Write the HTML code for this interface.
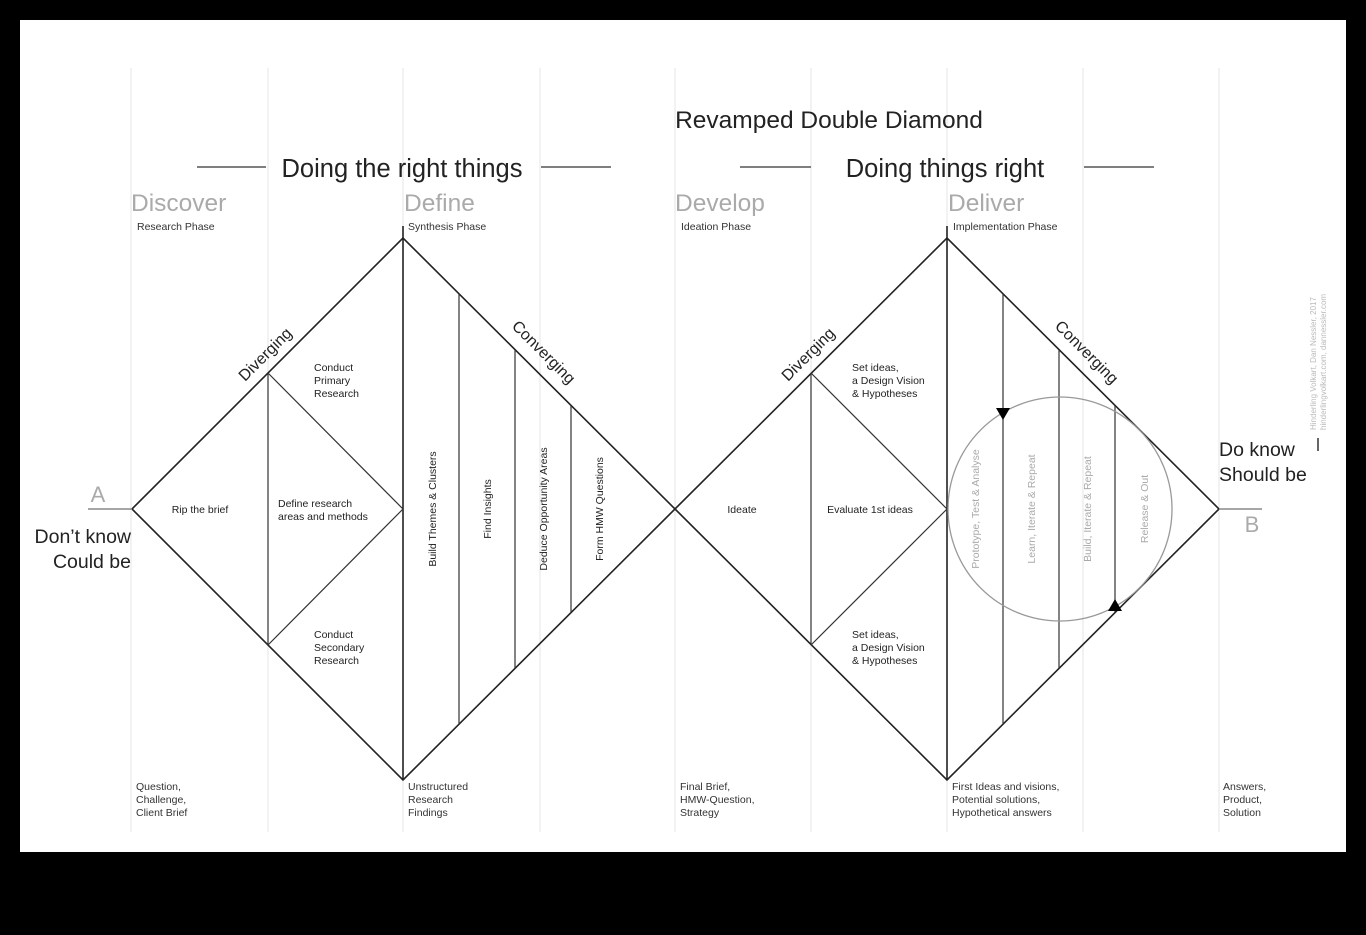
<!DOCTYPE html>
<html><head><meta charset="utf-8"><style>
html,body{margin:0;padding:0;background:#000;width:1366px;height:935px;overflow:hidden}
svg{display:block}
text{font-family:"Liberation Sans",sans-serif}
</style></head><body>
<svg width="1366" height="935" viewBox="0 0 1366 935" xmlns="http://www.w3.org/2000/svg">
<rect x="0" y="0" width="1366" height="935" fill="#000"/>
<rect x="20" y="20" width="1326" height="832" fill="#fff"/>
<g stroke="#e6e6e6" stroke-width="1">
<line x1="131" y1="68" x2="131" y2="832"/><line x1="268" y1="68" x2="268" y2="832"/>
<line x1="403" y1="68" x2="403" y2="832"/><line x1="540" y1="68" x2="540" y2="832"/>
<line x1="675" y1="68" x2="675" y2="832"/><line x1="811" y1="68" x2="811" y2="832"/>
<line x1="947" y1="68" x2="947" y2="832"/><line x1="1083" y1="68" x2="1083" y2="832"/>
<line x1="1219" y1="68" x2="1219" y2="832"/>
</g>
<g stroke="#333" stroke-width="1.3">
<line x1="197" y1="167" x2="266" y2="167"/><line x1="541" y1="167" x2="611" y2="167"/>
<line x1="740" y1="167" x2="811" y2="167"/><line x1="1084" y1="167" x2="1154" y2="167"/>
</g>
<text x="829" y="128" font-size="24.5" text-anchor="middle" fill="#222">Revamped Double Diamond</text>
<text x="402" y="177" font-size="25.5" text-anchor="middle" fill="#222">Doing the right things</text>
<text x="945" y="177" font-size="25.5" text-anchor="middle" fill="#222">Doing things right</text>
<g font-size="24.5" fill="#aaa">
<text x="131" y="211">Discover</text><text x="404" y="211">Define</text>
<text x="675" y="211">Develop</text><text x="948" y="211">Deliver</text>
</g>
<g font-size="10.5" fill="#333">
<text x="137" y="230">Research Phase</text><text x="408" y="230">Synthesis Phase</text>
<text x="681" y="230">Ideation Phase</text><text x="953" y="230">Implementation Phase</text>
<text x="136" y="790">Question,</text><text x="136" y="803">Challenge,</text><text x="136" y="816">Client Brief</text>
<text x="408" y="790">Unstructured</text><text x="408" y="803">Research</text><text x="408" y="816">Findings</text>
<text x="680" y="790">Final Brief,</text><text x="680" y="803">HMW-Question,</text><text x="680" y="816">Strategy</text>
<text x="952" y="790">First Ideas and visions,</text><text x="952" y="803">Potential solutions,</text><text x="952" y="816">Hypothetical answers</text>
<text x="1223" y="790">Answers,</text><text x="1223" y="803">Product,</text><text x="1223" y="816">Solution</text>
</g>
<g stroke="#222" stroke-width="1.6" fill="none">
<polygon points="132,509 403,238 675,509 403,780"/>
<polygon points="675,509 947,238 1219,509 947,780"/>
<line x1="403" y1="226" x2="403" y2="780"/><line x1="947" y1="226" x2="947" y2="780"/>
<line x1="88" y1="509" x2="132" y2="509" stroke="#888"/><line x1="1219" y1="509" x2="1262" y2="509" stroke="#888"/>
</g>
<g stroke="#333" stroke-width="1.2" fill="none">
<line x1="268" y1="373" x2="268" y2="645"/><polyline points="268,373 403,509 268,645"/>
<line x1="459" y1="294" x2="459" y2="724"/><line x1="515" y1="350" x2="515" y2="668"/><line x1="571" y1="406" x2="571" y2="612"/>
<line x1="811" y1="373" x2="811" y2="645"/><polyline points="811,373 947,509 811,645"/>
<line x1="1003" y1="294" x2="1003" y2="724"/><line x1="1059" y1="350" x2="1059" y2="668"/><line x1="1115" y1="406" x2="1115" y2="612"/>
</g>
<circle cx="1060" cy="509" r="112" fill="none" stroke="#999" stroke-width="1.3"/>
<polygon points="996,408 1010,408 1003,420" fill="#000"/>
<polygon points="1108,611 1122,611 1115,599" fill="#000"/>
<g font-size="16" fill="#222">
<text transform="translate(245,382) rotate(-45)">Diverging</text>
<text transform="translate(788,382) rotate(-45)">Diverging</text>
<text transform="translate(511,327) rotate(45)">Converging</text>
<text transform="translate(1054,327) rotate(45)">Converging</text>
</g>
<g font-size="10.5" fill="#222">
<text x="200" y="513" text-anchor="middle">Rip the brief</text>
<text x="278" y="507">Define research</text><text x="278" y="520">areas and methods</text>
<text x="314" y="371">Conduct</text><text x="314" y="384">Primary</text><text x="314" y="397">Research</text>
<text x="314" y="638">Conduct</text><text x="314" y="651">Secondary</text><text x="314" y="664">Research</text>
<text x="742" y="513" text-anchor="middle">Ideate</text>
<text x="870" y="513" text-anchor="middle">Evaluate 1st ideas</text>
<text x="852" y="371">Set ideas,</text><text x="852" y="384">a Design Vision</text><text x="852" y="397">&amp; Hypotheses</text>
<text x="852" y="638">Set ideas,</text><text x="852" y="651">a Design Vision</text><text x="852" y="664">&amp; Hypotheses</text>
<text transform="translate(436,509) rotate(-90)" text-anchor="middle">Build Themes &amp; Clusters</text>
<text transform="translate(491,509) rotate(-90)" text-anchor="middle">Find Insights</text>
<text transform="translate(547,509) rotate(-90)" text-anchor="middle">Deduce Opportunity Areas</text>
<text transform="translate(603,509) rotate(-90)" text-anchor="middle">Form HMW Questions</text>
</g>
<g font-size="10.5" fill="#aaa">
<text transform="translate(979,509) rotate(-90)" text-anchor="middle">Prototype, Test &amp; Analyse</text>
<text transform="translate(1035,509) rotate(-90)" text-anchor="middle">Learn, Iterate &amp; Repeat</text>
<text transform="translate(1091,509) rotate(-90)" text-anchor="middle">Build, Iterate &amp; Repeat</text>
<text transform="translate(1148,509) rotate(-90)" text-anchor="middle">Release &amp; Out</text>
</g>
<text x="98" y="502" font-size="22" fill="#aaa" text-anchor="middle">A</text>
<text x="1252" y="532" font-size="22" fill="#aaa" text-anchor="middle">B</text>
<g font-size="19.5" fill="#222">
<text x="131" y="543" text-anchor="end">Don’t know</text>
<text x="131" y="568" text-anchor="end">Could be</text>
<text x="1219" y="456">Do know</text>
<text x="1219" y="481">Should be</text>
</g>
<line x1="1318" y1="438" x2="1318" y2="451" stroke="#333" stroke-width="1.5"/>
<g font-size="8" fill="#bbb">
<text transform="translate(1316,430) rotate(-90)">Hinderling Volkart, Dan Nessler, 2017</text>
<text transform="translate(1326,430) rotate(-90)">hinderlingvolkart.com, dannessler.com</text>
</g>
</svg>
</body></html>
